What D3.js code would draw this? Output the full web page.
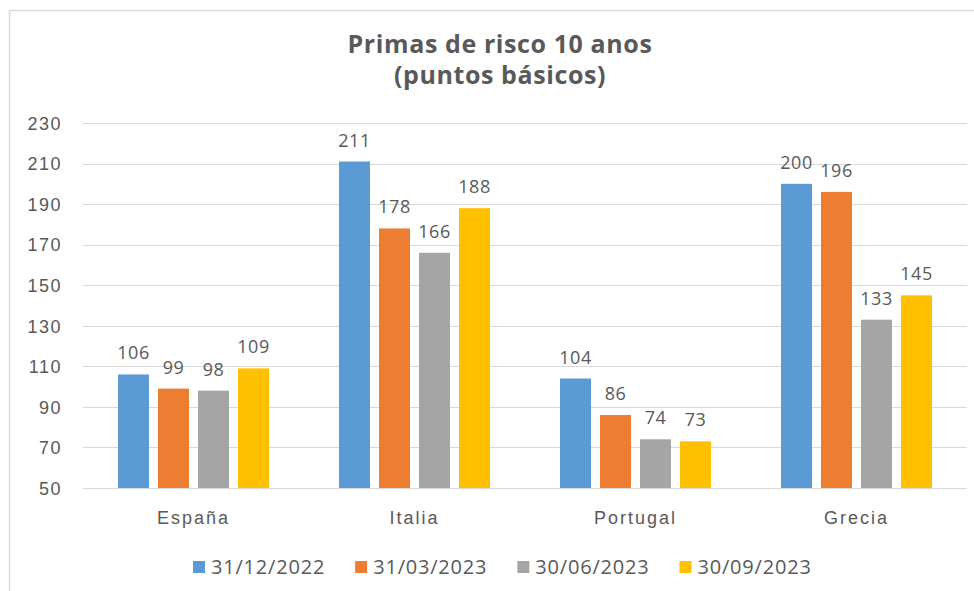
<!DOCTYPE html>
<html>
<head>
<meta charset="utf-8">
<script src="https://cdn.jsdelivr.net/npm/d3@7"></script>
<style>
  body { margin: 0; background: #fff; }
  svg { display: block; font-family: "Open Sans", "DejaVu Sans", sans-serif; }
</style>
</head>
<body>
<svg id="chart" width="974" height="591"></svg>
<script>
const categories = ["España", "Italia", "Portugal", "Grecia"];
const seriesNames = ["31/12/2022", "31/03/2023", "30/06/2023", "30/09/2023"];
const seriesColors = ["#5B9BD5", "#ED7D31", "#A5A5A5", "#FFC000"];
const v20221231 = [106, 211, 104, 200];
const v20230331 = [99, 178, 86, 196];
const v20230630 = [98, 166, 74, 133];
const v20230930 = [109, 188, 73, 145];
const seriesValues = [v20221231, v20230331, v20230630, v20230930];
const yTicks = [50, 70, 90, 110, 130, 150, 170, 190, 210, 230];
const titleLines = ["Primas de risco 10 anos", "(puntos básicos)"];

(function () {
const svg = d3.select("#chart");
const textColor = "#595959";

// outer frame
svg.append("rect").attr("x", 9.5).attr("y", 10.5).attr("width", 1000).attr("height", 1000)
  .attr("fill", "none").attr("stroke", "#D9D9D9").attr("stroke-width", 1.5);

const pLeft = 83, pRight = 967, pTop = 123, pBottom = 488;

const y = d3.scaleLinear().domain([50, 230]).range([pBottom, pTop]);
const x0 = d3.scaleBand().domain(categories).range([pLeft, pRight]).padding(0);
const x1 = d3.scaleBand().domain(seriesNames)
  .range([x0.bandwidth() / 2 - 75.5, x0.bandwidth() / 2 + 75.5])
  .paddingInner(0.225).paddingOuter(0);

// gridlines
svg.append("g")
  .selectAll("line").data(yTicks).join("line")
  .attr("x1", pLeft).attr("x2", pRight)
  .attr("y1", d => Math.round(y(d)) + 0.5).attr("y2", d => Math.round(y(d)) + 0.5)
  .attr("stroke", "#D9D9D9").attr("stroke-width", 1);

// y axis labels
const yAxis = d3.axisLeft(y).tickValues(yTicks).tickSize(0).tickPadding(0);
const gy = svg.append("g").attr("transform", `translate(62,0)`).call(yAxis);
gy.select(".domain").remove();
gy.selectAll("text").attr("fill", textColor).style("font-size", "18px")
  .style("letter-spacing", "1.5px").attr("dy", "0.35em");

// bars
const groups = svg.append("g").selectAll("g").data(categories).join("g")
  .attr("transform", d => `translate(${x0(d)},0)`);

groups.each(function(cat, ci) {
  const g = d3.select(this);
  seriesNames.forEach((s, si) => {
    const v = seriesValues[si][ci];
    g.append("rect")
      .attr("x", x1(s)).attr("width", x1.bandwidth())
      .attr("y", y(v)).attr("height", y(50) - y(v))
      .attr("fill", seriesColors[si]);
    g.append("text")
      .attr("x", x1(s) + x1.bandwidth() / 2)
      .attr("y", y(v) - 15)
      .attr("text-anchor", "middle")
      .attr("fill", textColor)
      .style("font-size", "18px")
      .style("letter-spacing", "0.5px")
      .text(v);
  });
});

// x axis labels
const xAxis = d3.axisBottom(x0).tickSize(0).tickPadding(0);
const gx = svg.append("g").attr("transform", `translate(0,${pBottom})`).call(xAxis);
gx.select(".domain").remove();
gx.selectAll("text").attr("fill", textColor).style("font-size", "18px")
  .style("letter-spacing", "2px").attr("dy", "0").attr("y", 36);

// title
svg.append("text").attr("x", 500).attr("text-anchor", "middle")
  .attr("fill", textColor).style("font-size", "25px").style("font-weight", "bold")
  .style("letter-spacing", "0.6px")
  .selectAll("tspan").data(titleLines).join("tspan")
  .attr("x", 500).attr("y", (d, i) => 53 + i * 31).text(d => d);

// legend
const legend = svg.append("g").attr("transform", "translate(0,567)");
let lx = 193;
seriesNames.forEach((s, i) => {
  legend.append("rect").attr("x", lx).attr("y", -6).attr("width", 12).attr("height", 12)
    .attr("fill", seriesColors[i]);
  const t = legend.append("text").attr("x", lx + 18).attr("y", 7)
    .attr("fill", textColor).style("font-size", "20px").style("letter-spacing", "0.8px").text(s);
  lx += 18 + t.node().getComputedTextLength() + 30;
});
})();
</script>
</body>
</html>
